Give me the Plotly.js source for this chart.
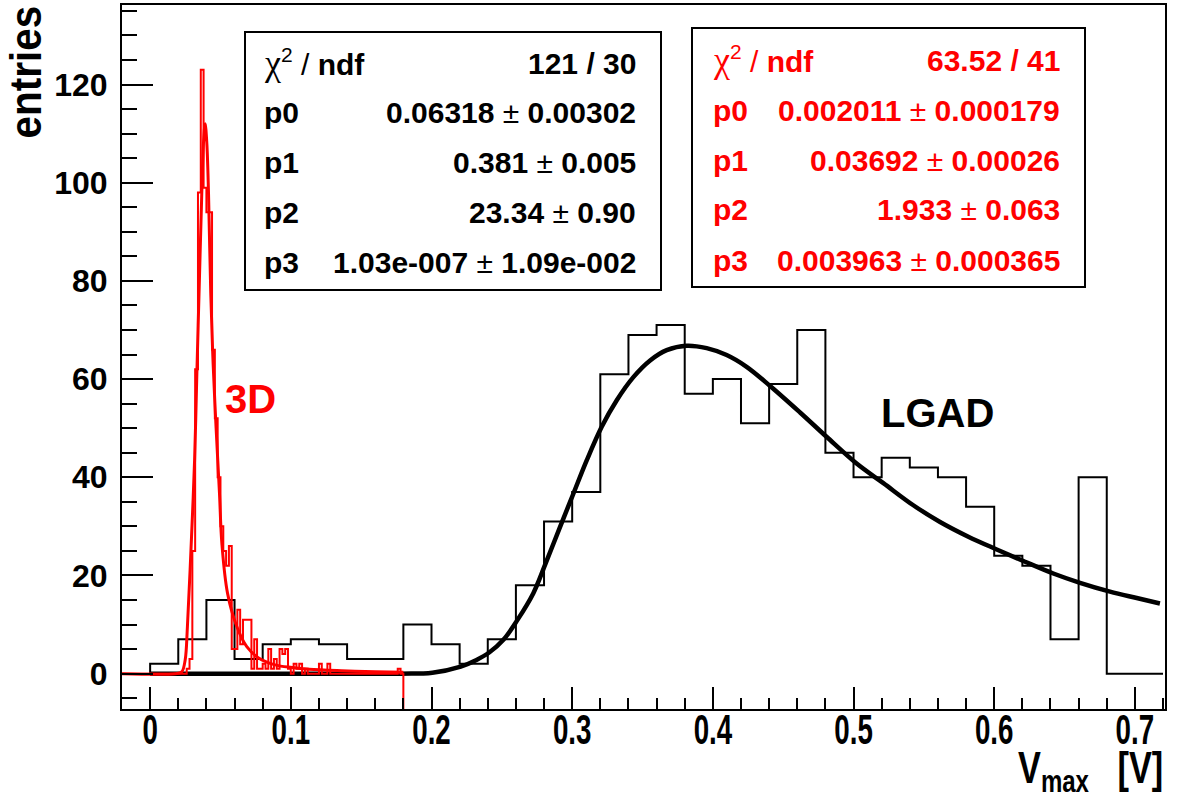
<!DOCTYPE html>
<html>
<head>
<meta charset="utf-8">
<script src="https://cdn.plot.ly/plotly-3.0.1.min.js"></script>
<style>
  html, body { margin: 0; padding: 0; background: #fff; }
  #plot { width: 1182px; height: 800px; }
</style>
</head>
<body>
<div id="plot"></div>
<script>
// LGAD pulse-height histogram: 0.02 V bins starting at 0 V
const lgadBinLow = 0.0;
const lgadBinWidth = 0.02;
const lgadCounts = [
  2, 7, 15, 3, 6, 7, 6, 3, 3, 10,
  6, 2, 7, 18, 31, 37, 61, 69, 71, 57,
  60, 51, 59, 70, 45, 40, 44, 42, 40, 34,
  24, 22, 7, 40, 0, 0
];

// 3D sensor pulse-height histogram: 0.002 V bins from -0.02 V to 0.18 V
const d3BinLow = -0.02;
const d3BinWidth = 0.002;
const d3Counts = [
  0, 0, 0, 0, 0, 0, 0, 0, 0, 0,
  0, 0, 0, 0, 0, 0, 0, 0, 0, 0,
  0, 0, 0, 1, 3, 25, 62, 98, 123, 99,
  94, 94, 66, 52, 40, 30, 25, 22, 26, 5,
  5, 13, 6, 11, 11, 11, 1, 7, 1, 1,
  2, 1, 5, 1, 3, 1, 5, 4, 5, 1,
  0, 2, 1, 2, 0, 1, 0, 0, 0, 0,
  2, 0, 0, 2, 0, 0, 0, 0, 0, 0,
  0, 0, 0, 0, 0, 0, 0, 0, 0, 0,
  0, 0, 0, 0, 0, 0, 0, 0, 1, 0
];

// Landau (x) Gauss fit curve of the LGAD spectrum
const lgadFitX = [0.000, 0.100, 0.178, 0.2006, 0.2208, 0.232, 0.241, 0.2511, 0.261, 0.2724,
  0.2812, 0.2914, 0.3009, 0.3104, 0.321, 0.3317, 0.3435, 0.3554, 0.3672, 0.3814,
  0.3956, 0.4098, 0.424, 0.4407, 0.462, 0.481, 0.5022, 0.5212, 0.5425, 0.5615,
  0.5816, 0.6018, 0.6219, 0.642, 0.661, 0.6823, 0.7013, 0.7178];
const lgadFitY = [0, 0, 0, 0.2, 1.45, 2.8, 4.3, 6.9, 10.9, 16.4,
  22.5, 29.9, 36.7, 43.5, 50.3, 55.7, 60.4, 63.8, 65.9, 66.8,
  66.3, 64.9, 62.5, 58.6, 53.2, 48.2, 42.8, 38.8, 34.3, 30.9,
  27.9, 25.3, 22.8, 20.4, 18.5, 16.7, 15.4, 14.3];

// Landau (x) Gauss fit curve of the 3D spectrum
const d3FitX = [-0.02, 0.018, 0.0225, 0.0249, 0.0265, 0.029, 0.0316, 0.0332, 0.035, 0.0367,
  0.0379, 0.0391, 0.0403, 0.0415, 0.0431, 0.0448, 0.0469, 0.0493, 0.051, 0.055,
  0.0616, 0.0687, 0.0771, 0.0888, 0.101, 0.113, 0.136, 0.16, 0.18];
const d3FitY = [0, 0, 0.4, 2.8, 9.6, 25, 43.5, 61, 80, 97.8,
  108, 112, 108, 97.8, 77.4, 63, 50, 36.7, 26.5, 16.4,
  9.6, 5.5, 3.2, 1.8, 1.25, 0.9, 0.6, 0.4, 0.3];

// fit results
const chiLabel = '<span style="font-family:\'Liberation Serif\',serif;font-weight:normal;font-size:36px">χ</span><span style="font-weight:normal"><sup>2</sup> /</span> ndf';
const pm = ' <span style="font-weight:normal">±</span> ';
const statNames = [chiLabel, 'p0', 'p1', 'p2', 'p3'];
const lgadStatValues = ['121 / 30', '0.06318' + pm + '0.00302', '0.381' + pm + '0.005',
  '23.34' + pm + '0.90', '1.03e-007' + pm + '1.09e-002'];
const d3StatValues = ['63.52 / 41', '0.002011' + pm + '0.000179', '0.03692' + pm + '0.00026',
  '1.933' + pm + '0.063', '0.003963' + pm + '0.000365'];

const xRange = [-0.02, 0.7214];
const yRange = [-7.2, 136.2];

// histogram outline as a staircase, closed at the last edge
function staircase(low, width, counts, endY) {
  const x = [low], y = [0];
  counts.forEach((c, i) => { x.push(low + i * width); y.push(c); });
  x.push(low + counts.length * width);
  y.push(endY);
  return { x, y };
}

const lgadStep = staircase(lgadBinLow, lgadBinWidth, lgadCounts, 0);
const d3Step = staircase(d3BinLow, d3BinWidth, d3Counts, yRange[0]);

const RED = '#ff0000';
const SANS = '"Liberation Sans", Arial, Helvetica, sans-serif';

const traces = [
  { x: lgadStep.x, y: lgadStep.y, mode: 'lines', line: { shape: 'hv', color: '#000', width: 2 }, hoverinfo: 'skip' },
  { x: lgadFitX, y: lgadFitY, mode: 'lines', line: { shape: 'spline', smoothing: 1, color: '#000', width: 4.5 }, hoverinfo: 'skip' },
  { x: d3Step.x, y: d3Step.y, mode: 'lines', line: { shape: 'hv', color: RED, width: 2 }, hoverinfo: 'skip' },
  { x: d3FitX, y: d3FitY, mode: 'lines', line: { shape: 'spline', smoothing: 1, color: RED, width: 3 }, hoverinfo: 'skip' }
];

// page layout in pixels
const M = { l: 122, r: 17, t: 5, b: 91 };
const PW = 1182 - M.l - M.r, PH = 800 - M.t - M.b;
const fx = px => (px - M.l) / PW;
const fy = py => (800 - M.b - py) / PH;

const annotations = [];
const shapes = [];

function statBox(left, right, top, bottom, textL, textR, rowY, values, color) {
  shapes.push({ type: 'rect', xref: 'paper', yref: 'paper', layer: 'above',
    x0: fx(left), x1: fx(right), y0: fy(bottom), y1: fy(top),
    line: { color: '#000', width: 2 }, fillcolor: '#fff' });
  statNames.forEach((name, i) => {
    const y = fy(rowY[i]);
    annotations.push({ xref: 'paper', yref: 'paper', x: fx(textL), y, xanchor: 'left', yanchor: 'middle',
      text: name, showarrow: false, font: { family: SANS, size: 30, color, weight: 700 } });
    annotations.push({ xref: 'paper', yref: 'paper', x: fx(textR), y, xanchor: 'right', yanchor: 'middle',
      text: values[i], showarrow: false, font: { family: SANS, size: 30, color, weight: 700 } });
  });
}

statBox(245, 661, 32, 290, 262, 638, [63, 112, 162, 212, 262], lgadStatValues, '#000');
statBox(692, 1085, 28, 287, 711, 1062, [60, 110, 160, 210, 260], d3StatValues, RED);

annotations.push(
  { xref: 'x', yref: 'y', x: 0.0711, y: 56, text: '3D', showarrow: false,
    font: { family: SANS, size: 40, color: RED, weight: 700 } },
  { xref: 'x', yref: 'y', x: 0.56, y: 53, text: 'LGAD', showarrow: false,
    font: { family: SANS, size: 40, color: '#000', weight: 700 } }
);
const yTitleIndex = annotations.length;
annotations.push({ xref: 'paper', yref: 'paper', x: fx(26), y: fy(4), xanchor: 'center', yanchor: 'top', textangle: -90,
  text: 'entries', showarrow: false, font: { family: SANS, size: 44, color: '#000', weight: 700 } });
const xTitleIndex = annotations.length;
annotations.push({ xref: 'paper', yref: 'paper', x: 1, y: fy(741), xanchor: 'right', yanchor: 'top',
  text: 'V<sub>max</sub>\u00a0\u00a0\u00a0[V]', showarrow: false, font: { family: SANS, size: 44, color: '#000', weight: 700 } });

const layout = {
  width: 1182, height: 800,
  margin: M,
  paper_bgcolor: '#fff', plot_bgcolor: '#fff',
  showlegend: false,
  xaxis: {
    range: xRange, tick0: 0, dtick: 0.1,
    ticks: 'inside', ticklen: 22, tickwidth: 2, tickcolor: '#000',
    minor: { dtick: 0.02, ticks: 'inside', ticklen: 11, tickwidth: 2, tickcolor: '#000', showgrid: false },
    showline: true, mirror: true, linewidth: 2, linecolor: '#000',
    showgrid: false, zeroline: false, ticklabelstandoff: -17,
    tickfont: { family: SANS, size: 42, color: '#000', weight: 700 }
  },
  yaxis: {
    range: yRange, tick0: 0, dtick: 20,
    ticks: 'inside', ticklen: 31, tickwidth: 2, tickcolor: '#000',
    minor: { dtick: 5, ticks: 'inside', ticklen: 15, tickwidth: 2, tickcolor: '#000', showgrid: false },
    showline: true, mirror: true, linewidth: 2, linecolor: '#000',
    showgrid: false, zeroline: false, ticklabelstandoff: 6,
    tickfont: { family: SANS, size: 32, color: '#000', weight: 700 }
  },
  shapes, annotations
};

// squeeze text horizontally (in its own frame) about a chosen edge
function condense(nodes, k, anchor) {
  nodes.forEach(t => {
    const bb = t.getBBox();
    const ax = anchor === 'right' ? bb.x + bb.width : (anchor === 'left' ? bb.x : bb.x + bb.width / 2);
    const cur = t.getAttribute('transform') || '';
    t.setAttribute('transform', `${cur} translate(${ax},0) scale(${k},1) translate(${-ax},0)`);
  });
}

Plotly.newPlot('plot', traces, layout, { staticPlot: true }).then(gd => {
  condense(gd.querySelectorAll('g.xtick > text'), 0.66, 'center');
  condense(gd.querySelectorAll(`g.annotation[data-index="${yTitleIndex}"] text.annotation-text`), 0.92, 'right');
  condense(gd.querySelectorAll(`g.annotation[data-index="${xTitleIndex}"] text.annotation-text`), 0.78, 'right');
});
</script>
</body>
</html>
